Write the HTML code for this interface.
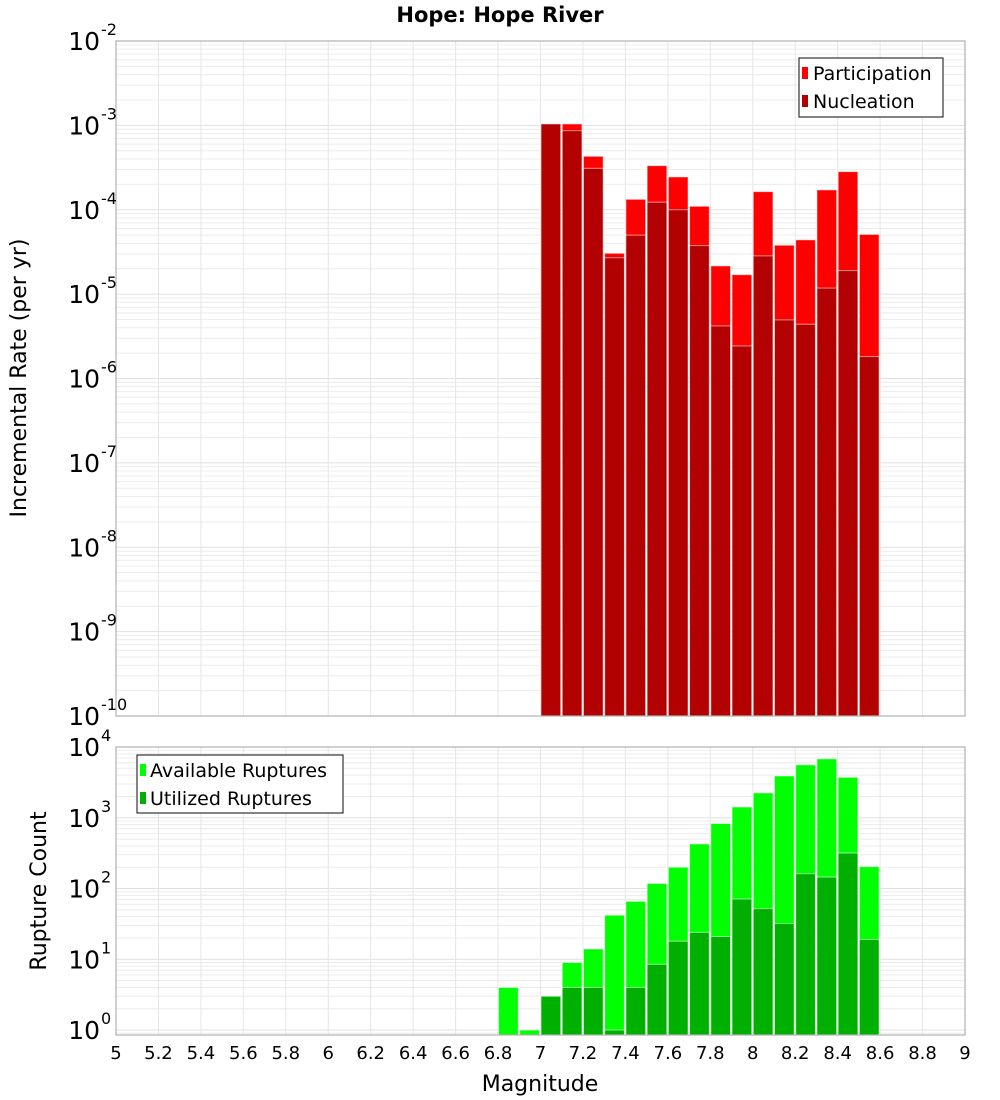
<!DOCTYPE html>
<html><head><meta charset="utf-8"><style>
html,body{margin:0;padding:0;background:#fff;}
svg{display:block;font-family:"DejaVu Sans","Liberation Sans",sans-serif;}
</style></head><body>
<svg id="chart" width="1000" height="1100" viewBox="0 0 1000 1100" xmlns="http://www.w3.org/2000/svg">
<text x="500" y="22" text-anchor="middle" font-size="21" font-weight="bold">Hope: Hope River</text>
<g id="top"></g>
<g id="bot"></g>
<text transform="translate(26,378) rotate(-90)" text-anchor="middle" font-size="22">Incremental Rate (per yr)</text>
<text transform="translate(46,891) rotate(-90)" text-anchor="middle" font-size="22">Rupture Count</text>
<text x="540" y="1091" text-anchor="middle" font-size="22">Magnitude</text>
<g>
<rect x="799" y="58" width="144" height="59" fill="#fff" stroke="#333" stroke-width="1.2"/>
<rect x="802" y="67" width="6" height="12" fill="#ff0000"/>
<text x="813" y="80" font-size="19">Participation</text>
<rect x="802" y="95" width="6" height="12" fill="#b30000"/>
<text x="813" y="108" font-size="19">Nucleation</text>
</g>
<g>
<rect x="137" y="755" width="206" height="58" fill="#fff" stroke="#333" stroke-width="1.2"/>
<rect x="140" y="764" width="6" height="12" fill="#00ff00"/>
<text x="150" y="777" font-size="19">Available Ruptures</text>
<rect x="140" y="792" width="6" height="12" fill="#00b000"/>
<text x="150" y="805" font-size="19">Utilized Ruptures</text>
</g>
</svg>
<script>
const binStarts=[7.0,7.1,7.2,7.3,7.4,7.5,7.6,7.7,7.8,7.9,8.0,8.1,8.2,8.3,8.4,8.5];
const participation=[1.04e-3,1.04e-3,4.3e-4,3.05e-5,1.33e-4,3.33e-4,2.45e-4,1.1e-4,2.16e-5,1.7e-5,1.64e-4,3.8e-5,4.4e-5,1.72e-4,2.83e-4,5.1e-5];
const nucleation=[1.04e-3,8.65e-4,3.1e-4,2.7e-5,5.0e-5,1.23e-4,1.0e-4,3.76e-5,4.2e-6,2.43e-6,2.84e-5,4.95e-6,4.4e-6,1.18e-5,1.9e-5,1.82e-6];
const countBins=[6.8,6.9,7.0,7.1,7.2,7.3,7.4,7.5,7.6,7.7,7.8,7.9,8.0,8.1,8.2,8.3,8.4,8.5];
const available=[4,1,3,9,14,42,66,118,200,427,830,1420,2250,3900,5600,6800,3730,204];
const utilized=[0,0,3,4,4,1,4,8.5,18,24,21,71,52,32,162,145,317,19];
const xTicks=["5","5.2","5.4","5.6","5.8","6","6.2","6.4","6.6","6.8","7","7.2","7.4","7.6","7.8","8","8.2","8.4","8.6","8.8","9"];
const topExps=[-2,-3,-4,-5,-6,-7,-8,-9,-10];
const botExps=[0,1,2,3,4];

const NS="http://www.w3.org/2000/svg";
const L=116,R=965,xMin=5,xMax=9;
const xs=m=>L+(m-xMin)/(xMax-xMin)*(R-L);
function mk(parent,tag,attrs){const e=document.createElementNS(NS,tag);for(const k in attrs)e.setAttribute(k,attrs[k]);parent.appendChild(e);return e;}
function panel(g,top,bot,lmin,lmax,name){
  const ys=v=>bot-(Math.log10(v)-lmin)/(lmax-lmin)*(bot-top);
  // grid
  for(let d=Math.floor(lmin);d<=Math.ceil(lmax);d++){
    for(let k=1;k<10;k++){const lv=d+Math.log10(k);if(lv<lmin||lv>lmax)continue;
      const y=ys(Math.pow(10,lv));
      const ln=mk(g,'line',{x1:L,x2:R,y1:y,y2:y,stroke:k==1?'#e0e0e0':'#ececec','stroke-width':1});
      
      
    }}
  xTicks.forEach(t=>{const x=xs(parseFloat(t));
    const ln=mk(g,'line',{x1:x,x2:x,y1:top,y2:bot,stroke:'#e6e6e6','stroke-width':1});
    
    });
  return ys;
}
function tickLabel(g,y,e,name){
  const t=mk(g,'text',{x:100,y:y+9,'text-anchor':'end','font-size':25});
  t.textContent='10';
  
  
  const s=mk(g,'text',{x:101,y:y-6,'font-size':16});
  s.textContent=String(e);
  
  
}
function bars(g,ys,bins,vals,color,name,base){
  const w=(R-L)/(xMax-xMin)*0.1;
  bins.forEach((b,i)=>{if(!(vals[i]>0))return;
    const x=xs(b);const y=ys(vals[i]);
    const r=mk(g,'rect',{x:x+0.5,y:y,width:w-1.5,height:Math.max(0,base-y),fill:color,stroke:'rgba(255,255,255,0.55)','stroke-width':1});
    
    
  });
}
// top panel
const gt=document.getElementById('top');
const T0=41,T1=716;
const ysT=panel(gt,T0,T1,-10,-2,'top');
bars(gt,ysT,binStarts,participation,'#ff0000','participation',T1);
bars(gt,ysT,binStarts,nucleation,'#b30000','nucleation',T1);
mk(gt,'rect',{x:L,y:T0,width:R-L,height:T1-T0,fill:'none',stroke:'#b0b0b0','stroke-width':1.2});
topExps.forEach(e=>tickLabel(gt,ysT(Math.pow(10,e)),e,'top-y-tick-label'));
// bottom panel
const gb=document.getElementById('bot');
const B0=747,B1=1035;
const ysB=panel(gb,B0,B1,-0.07,4.0,'bottom');
bars(gb,ysB,countBins,available,'#00ff00','available',B1);
bars(gb,ysB,countBins,utilized,'#00b000','utilized',B1);
mk(gb,'rect',{x:L,y:B0,width:R-L,height:B1-B0,fill:'none',stroke:'#b0b0b0','stroke-width':1.2});
botExps.forEach(e=>tickLabel(gb,ysB(Math.pow(10,e)),e,'bottom-y-tick-label'));
xTicks.forEach(t=>{
  const tx=mk(gb,'text',{x:xs(parseFloat(t)),y:1059,'text-anchor':'middle','font-size':18});
  tx.textContent=t;
  
  
});
</script>
</body></html>
